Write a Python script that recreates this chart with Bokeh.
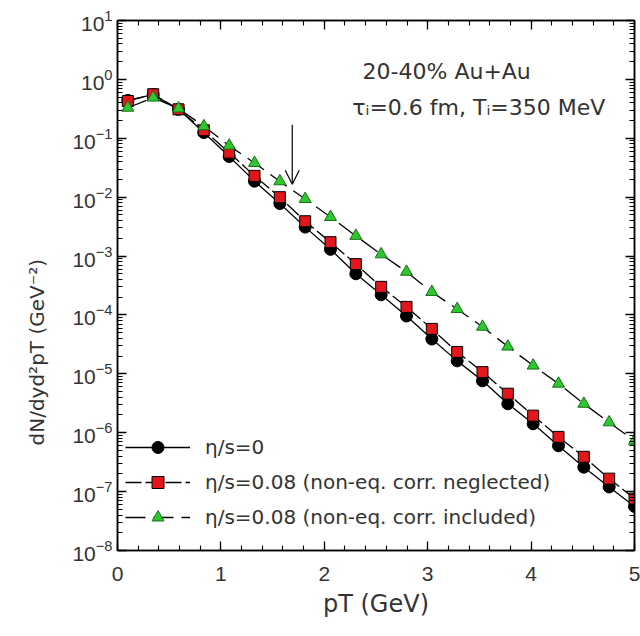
import numpy as np
from bokeh.plotting import figure
from bokeh.models import (Range1d, FixedTicker, LinearAxis, LogAxis, Legend, LegendItem,
                          Arrow, OpenHead, Label, Title, ColumnDataSource)
from bokeh.embed import file_html
from bokeh.resources import INLINE

# ---- data ----
pt = [0.1, 0.345, 0.59, 0.835, 1.08, 1.325, 1.57, 1.815, 2.06, 2.305, 2.55,
      2.795, 3.04, 3.285, 3.53, 3.775, 4.02, 4.265, 4.51, 4.755, 5.0]
ideal = [0.44, 0.55, 0.31, 0.125, 0.049, 0.0187, 0.0078, 0.0031, 0.0013, 5.0e-4, 2.2e-4,
         9.6e-5, 3.9e-5, 1.66e-5, 7.6e-6, 3.1e-6, 1.42e-6, 6.0e-7, 2.6e-7, 1.2e-7, 5.6e-8]
visc_neglected = [0.43, 0.56, 0.31, 0.137, 0.057, 0.023, 0.010, 0.0039, 0.00172, 7.3e-4, 3.0e-4,
                  1.37e-4, 5.8e-5, 2.35e-5, 1.07e-5, 4.6e-6, 1.95e-6, 8.5e-7, 3.9e-7, 1.66e-7, 7.6e-8]
visc_included = [0.33, 0.49, 0.32, 0.16, 0.075, 0.038, 0.0186, 0.0093, 0.0046, 2.2e-3, 1.07e-3,
                 5.4e-4, 2.45e-4, 1.26e-4, 6.3e-5, 2.9e-5, 1.38e-5, 6.8e-6, 3.1e-6, 1.5e-6, 7.3e-7]
series_labels = ["η/s=0",
                 "η/s=0.08 (non-eq. corr. neglected)",
                 "η/s=0.08 (non-eq. corr. included)"]
x_ticks = [0, 1, 2, 3, 4, 5]
y_decades = list(range(-8, 2))
arrow_pt = 1.69
arrow_top = 0.17
arrow_tip = 0.0166

FONT = "Liberation Sans"
WIDE = "DejaVu Sans"
TXT = "#333333"

p = figure(width=640, height=636, x_range=Range1d(0, 5), y_range=Range1d(1e-8, 10),
           y_axis_type="log", output_backend="svg", toolbar_location=None,
           min_border_left=117, min_border_right=6, min_border_top=20, min_border_bottom=86)
p.grid.visible = False
p.outline_line_color = "black"
p.outline_line_width = 1.5
p.background_fill_color = "white"
p.border_fill_color = "white"

x_minor = [round(v, 2) for v in np.arange(0, 5.001, 0.2)]
y_major = [10.0 ** k for k in y_decades]
y_minor = [m * 10.0 ** k for k in y_decades[:-1] for m in range(2, 10)]
xt = FixedTicker(ticks=x_ticks, minor_ticks=x_minor)
yt = FixedTicker(ticks=y_major, minor_ticks=y_minor)


def style(ax, labels=True):
    ax.axis_line_color = "black"
    ax.axis_line_width = 1.5
    ax.major_tick_in = 9
    ax.major_tick_out = 0
    ax.minor_tick_in = 5
    ax.minor_tick_out = 0
    ax.major_tick_line_width = 1.3
    ax.minor_tick_line_width = 1.1
    ax.major_tick_line_color = "black"
    ax.minor_tick_line_color = "black"
    if labels:
        ax.major_label_text_font = FONT
        ax.major_label_text_font_size = "21px"
        ax.major_label_text_color = TXT
        ax.axis_label_text_font = WIDE
        ax.axis_label_text_font_size = "24px"
        ax.axis_label_text_font_style = "normal"
        ax.axis_label_text_color = TXT
    else:
        ax.major_label_text_font_size = "1px"
        ax.major_label_text_color = None
        ax.major_label_standoff = 0


xa = p.xaxis[0]
xa.ticker = xt
style(xa)
xa.major_label_standoff = 16
xa.axis_label = "pT (GeV)"
xa.axis_label_standoff = 6

ya = p.yaxis[0]
ya.ticker = yt
style(ya)
ya.major_label_standoff = 5

top = LinearAxis(ticker=xt)
style(top, labels=False)
p.add_layout(top, "above")
right = LogAxis(ticker=yt)
style(right, labels=False)
p.add_layout(right, "right")

# y-axis title, shifted a little below the frame centre as in the reference
p.add_layout(Title(text="dN/dyd²pT (GeV⁻²)", align="left", offset=105, standoff=42,
                   text_font=WIDE, text_font_size="20px", text_font_style="normal",
                   text_color=TXT), "left")

src = ColumnDataSource(dict(pt=pt, a=ideal, b=visc_neglected, c=visc_included))

l0 = p.line("pt", "a", source=src, line_color="black", line_width=1.3)
m0 = p.scatter("pt", "a", source=src, marker="circle", size=12, fill_color="black",
               line_color="black")
l1 = p.line("pt", "b", source=src, line_color="black", line_width=1.3, line_dash="16 4")
m1 = p.scatter("pt", "b", source=src, marker="square", size=11, fill_color="#e3161c",
               line_color="black", line_width=1)
l2 = p.line("pt", "c", source=src, line_color="black", line_width=1.3, line_dash="20 8")
m2 = p.scatter("pt", "c", source=src, marker="triangle", size=12, fill_color="#2ec82e",
               line_color="#1a6e1a", line_width=1)

legend = Legend(items=[LegendItem(label=series_labels[0], renderers=[l0, m0]),
                       LegendItem(label=series_labels[1], renderers=[l1, m1]),
                       LegendItem(label=series_labels[2], renderers=[l2, m2])],
                location=(8, 18), glyph_width=65, glyph_height=30, spacing=5,
                label_standoff=15, padding=0, margin=0,
                background_fill_alpha=0, border_line_alpha=0,
                label_text_font=WIDE, label_text_font_size="20px", label_text_color=TXT)
p.add_layout(legend, "center")

p.add_layout(Arrow(end=OpenHead(size=14, line_width=1.2), x_start=arrow_pt, y_start=arrow_top,
                   x_end=arrow_pt, y_end=arrow_tip, line_width=1.2, line_color="black"))

p.add_layout(Label(x=2.37, y=1.37, text="20-40% Au+Au", text_font=WIDE, text_font_size="22px",
                   text_color=TXT, text_baseline="middle"))
p.add_layout(Label(x=2.27, y=0.335, text="τᵢ=0.6 fm, Tᵢ=350 MeV", text_font=WIDE,
                   text_font_size="22px", text_color=TXT, text_baseline="middle"))

open("out.html", "w").write(file_html(p, INLINE))
